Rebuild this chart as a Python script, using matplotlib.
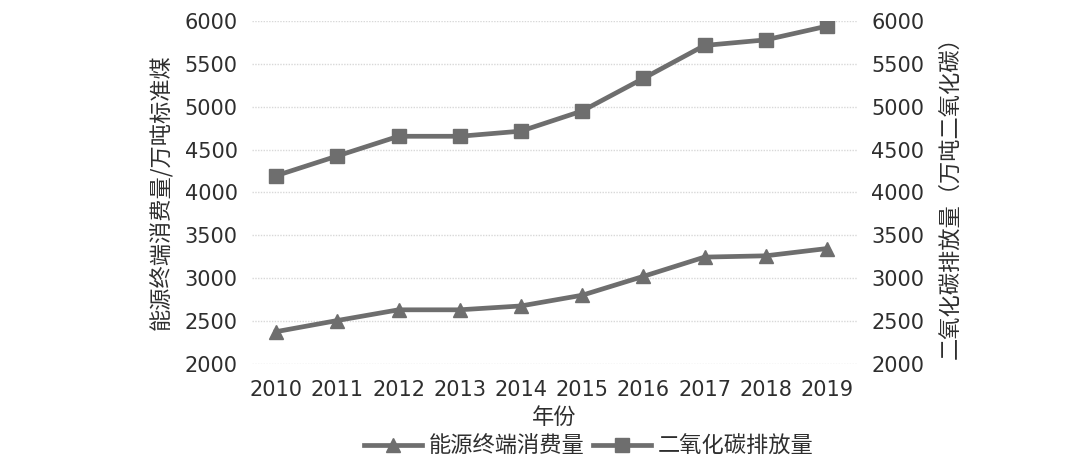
import matplotlib
matplotlib.use("Agg")
import matplotlib.pyplot as plt
from matplotlib.lines import Line2D

years = ["2010", "2011", "2012", "2013", "2014", "2015", "2016", "2017", "2018", "2019"]
energy = [2375, 2505, 2630, 2630, 2675, 2800, 3020, 3245, 3260, 3345]
co2 = [4195, 4425, 4655, 4655, 4715, 4950, 5330, 5715, 5780, 5940]
yticks = [2000, 2500, 3000, 3500, 4000, 4500, 5000, 5500, 6000]

cjk = ["Noto Sans CJK SC", "DejaVu Sans"]
line_color = "#6e6e6e"
text_color = "#2e2e2e"

fig = plt.figure(figsize=(10.8, 4.67), dpi=100)
ax = fig.add_axes([0.233, 0.221, 0.561, 0.734])
ax2 = ax.twinx()

x = list(range(len(years)))
ax.plot(x, energy, color=line_color, lw=3.4, marker="^", ms=10, label="能源终端消费量")
ax2.plot(x, co2, color=line_color, lw=3.4, marker="s", ms=10, label="二氧化碳排放量")

for a in (ax, ax2):
    a.set_ylim(2000, 6000)
    a.set_yticks(yticks)
    a.set_xlim(-0.4, 9.5)
    for s in a.spines.values():
        s.set_visible(False)
    a.tick_params(length=0, labelsize=15, colors=text_color)

ax.grid(axis="y", color="#d8d8d8", lw=1, ls=(0, (1, 1)))
ax.set_xticks(x)
ax.set_xticklabels(years)
ax.tick_params(axis="x", pad=12)
ax.tick_params(axis="y", pad=10)
ax2.tick_params(axis="y", pad=10)

ax.set_xlabel("年份", family=cjk, fontsize=16, color=text_color, labelpad=4)
ax.set_ylabel("能源终端消费量/万吨标准煤", family=cjk, fontsize=16, color=text_color, labelpad=8)
ax2.set_ylabel("二氧化碳排放量（万吨二氧化碳）", family=cjk, fontsize=16, color=text_color,
               rotation=90, labelpad=10)

handles = [Line2D([], [], color=line_color, lw=3.4, marker="^", ms=10),
           Line2D([], [], color=line_color, lw=3.4, marker="s", ms=10)]
fig.legend(handles, ["能源终端消费量", "二氧化碳排放量"], loc="center", bbox_to_anchor=(0.545, 0.045),
           ncol=2, frameon=False, prop={"family": cjk, "size": 16}, labelcolor=text_color,
           handlelength=2.6, columnspacing=0.4, handletextpad=0.3)

fig.savefig("out.png", dpi=100)
